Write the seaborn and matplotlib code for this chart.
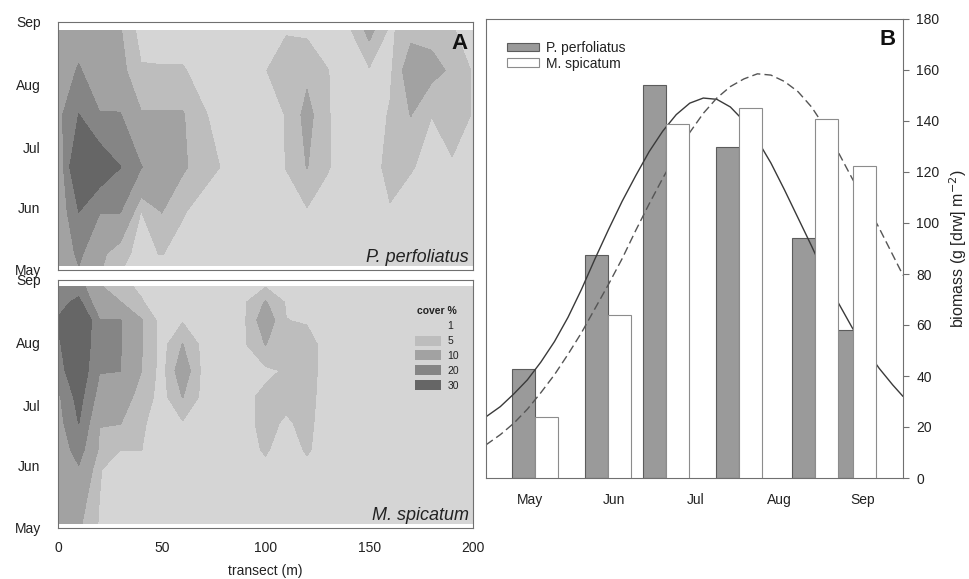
import numpy as np
import matplotlib
matplotlib.use('Agg')
import matplotlib.pyplot as plt
from matplotlib.patches import Patch
from matplotlib.ticker import FixedLocator
import seaborn as sns

# --- data -------------------------------------------------------------
# transect positions (m) and sampling days (day of year)
TRANSECT = [0, 10, 20, 30, 40, 50, 60, 70, 80, 90, 100,
            110, 120, 130, 140, 150, 160, 170, 180, 190, 200]
PP_DAYS = [123, 129, 150, 172, 198, 220, 240]
MS_DAYS = [123, 150, 160, 173, 186, 199, 212, 224, 233, 241]

# cover % along transect, one row per sampling day (May -> Sep)
PP_COVER = [
    [11, 20, 11, 5.5, 3, 3, 2, 1, 1, 1, 1, 1, 1, 1, 1, 1, 1, 1, 1, 1, 1],
    [12, 22, 12, 6, 4, 5.2, 3, 2, 1, 1, 1, 1, 1, 1, 1, 1, 1, 1, 1, 1, 1],
    [12, 30.2, 20.5, 20.5, 4.9, 10.2, 5.5, 3, 2, 1, 1, 2, 4.5, 2, 1, 1, 4.5, 2, 1, 1, 1],
    [11, 45, 38, 30.2, 20.5, 12, 11, 7, 4.5, 1, 1, 5.2, 10.2, 5.5, 1, 2, 7, 5.5, 3, 4, 1],
    [17, 30.2, 20.5, 20.5, 10.5, 10.5, 10.5, 5.5, 3, 1, 3, 5.2, 12, 5.5, 1, 2, 5.5, 10.2, 5.1, 9, 4.5],
    [14, 21, 14, 12, 5.5, 5.5, 5.5, 3, 1, 1, 4.8, 8, 8.5, 5.2, 1.5, 4.5, 4, 14, 12, 9, 4.5],
    [12, 15, 12, 10.5, 3, 2, 2, 1, 1, 1, 1, 4.5, 4, 1, 4, 12, 4, 8, 8, 5.5, 2],
]
MS_COVER = [
    [12, 11, 4.5, 1, 1, 1, 1, 1, 1, 1, 1, 1, 1, 1, 1, 1, 1, 1, 1, 1, 1],
    [13, 19, 5.5, 1, 1, 1, 1, 1, 1, 1, 4, 1, 4, 1, 1, 1, 1, 1, 1, 1, 1],
    [14, 24, 9, 5.2, 5.2, 1, 1, 1, 1, 3.5, 5.5, 3, 5.5, 3, 1, 1, 1, 1, 1, 1, 1],
    [16, 30.2, 10.2, 10.2, 6, 2, 4.5, 1, 1, 4, 6, 4.5, 6, 3, 1, 1, 1, 1, 1, 1, 1],
    [18, 34, 16, 13, 8, 3, 10.2, 3.5, 1, 4, 6, 6, 6.5, 3, 1, 1, 1, 1, 1, 1, 1],
    [26, 38, 20.5, 20.2, 10.2, 3, 14, 3.5, 1, 1, 4, 5.5, 7, 3, 1, 1, 1, 1, 1, 1, 1],
    [28, 42, 20.5, 20.5, 10.5, 3, 10.2, 3.5, 1, 4.5, 10.2, 6, 7, 3, 1, 1, 1, 1, 1, 1, 1],
    [31, 45, 20.5, 20.5, 10.5, 3, 4.5, 1, 1, 4.5, 14, 5.1, 4.5, 1, 1, 1, 1, 1, 1, 1, 1],
    [26, 33, 12, 10.2, 5.5, 2, 1, 1, 1, 4.5, 10.5, 4.5, 1, 1, 1, 1, 1, 1, 1, 1, 1],
    [22, 24, 10.5, 6.5, 4, 1, 1, 1, 1, 1, 4.5, 1, 1, 1, 1, 1, 1, 1, 1, 1, 1],
]
COVER_LEVELS = [0, 5, 10, 20, 30, 100]
COVER_LABELS = ['1', '5', '10', '20', '30']

# panel B: biomass bars (g dw m-2) at sampling days
PP_BAR_DAYS = [118.6, 145.6, 166.8, 193.9, 222.0, 237.5]
PP_BIOMASS = [42.7, 87.5, 154.2, 129.9, 94.2, 58.0]
MS_BAR_DAYS = [127.1, 154.1, 175.3, 202.4, 230.5, 244.6]
MS_BIOMASS = [23.9, 63.8, 138.7, 145.2, 140.9, 122.2]

# fitted seasonal curves
FIT_DAYS = [104.7, 110, 115, 120, 125, 130, 135, 140, 145, 150, 155, 160,
            165, 170, 175, 180, 185, 190, 195, 200, 205, 210, 215, 220,
            225, 230, 235, 240, 245, 250, 255, 258.8]
PP_FIT = [24, 28, 33, 38.5, 45.5, 53.5, 63, 74, 86, 97.5, 108.5, 118.5,
          128, 136, 142.5, 147, 149, 148.5, 145.5, 140, 132.5, 123.5, 113, 102,
          91, 79.5, 68.5, 59, 50.5, 43, 36.5, 32]
MS_FIT = [13, 17, 21.5, 27, 33.5, 40.5, 48.5, 57, 66.5, 76, 86, 97,
          107.5, 117.5, 127, 135.5, 143, 149, 153.5, 156.5, 158.5, 158, 155.5, 151.5,
          145.5, 137.5, 127.5, 117.5, 108, 98, 87.5, 79.5]

MONTH_DAYS = [121, 152, 182, 213, 244]
MONTHS = ['May', 'Jun', 'Jul', 'Aug', 'Sep']

# --- style ------------------------------------------------------------
sns.set_theme(style='white')
plt.rcParams['font.family'] = ['Liberation Sans', 'DejaVu Sans']

COVER_COLORS = ['#d5d5d5', '#bdbdbd', '#a2a2a2', '#858585', '#666666']
GREY_BAR = '#9a9a9a'
SPINE = '#707070'
TXT = '#222222'
BAR_DAYS = 8.5

W, H = 970, 579


def px_rect(left, top, right, bottom):
    return [left / W, 1 - bottom / H, (right - left) / W, (bottom - top) / H]


def weekly_minor(starts):
    return [m + 7 * k for m in starts for k in range(1, 5)]


def style_axes(ax):
    for sp in ax.spines.values():
        sp.set_color(SPINE)
        sp.set_linewidth(0.8)
    ax.tick_params(which='both', direction='out', colors=SPINE, labelcolor=TXT)
    ax.tick_params(which='major', length=4.5, width=0.8, labelsize=10)
    ax.tick_params(which='minor', length=2.5, width=0.6)


fig = plt.figure(figsize=(W / 100, H / 100), dpi=100)

# --- panel A: cover contours -----------------------------------------
ax_pp = fig.add_axes(px_rect(58, 22, 473, 270))
ax_ms = fig.add_axes(px_rect(58, 280, 473, 528))

for ax, days, cover, name in [(ax_pp, PP_DAYS, PP_COVER, 'P. perfoliatus'),
                              (ax_ms, MS_DAYS, MS_COVER, 'M. spicatum')]:
    ax.contourf(TRANSECT, days, np.array(cover), levels=COVER_LEVELS,
                colors=COVER_COLORS)
    ax.set_xlim(0, 200)
    ax.set_ylim(121, 244)
    ax.set_xticks([0, 50, 100, 150, 200])
    ax.set_yticks(MONTH_DAYS)
    ax.set_yticklabels(MONTHS)
    ax.yaxis.set_minor_locator(FixedLocator(weekly_minor(MONTH_DAYS[:-1])))
    style_axes(ax)
    ax.tick_params(axis='y', which='major', pad=8)
    ax.text(0.99, 0.033, name, transform=ax.transAxes, ha='right',
            va='baseline', fontsize=13, fontstyle='italic', color=TXT)

ax_pp.tick_params(axis='x', labelbottom=False)
ax_ms.tick_params(axis='x', pad=5)
ax_ms.set_xlabel('transect (m)', fontsize=10, color=TXT, labelpad=6)
ax_pp.text(0.988, 0.955, 'A', transform=ax_pp.transAxes, ha='right', va='top',
           fontsize=16, fontweight='bold', color='#111111')

cover_handles = [Patch(facecolor=c, edgecolor='none') for c in COVER_COLORS]
leg = ax_ms.legend(cover_handles, COVER_LABELS, title='cover %',
                   loc='upper right', bbox_to_anchor=(464 / W, 1 - 301 / H),
                   bbox_transform=fig.transFigure, frameon=False,
                   fontsize=7.5, handlelength=2.5, handleheight=1.1,
                   labelspacing=0.42, handletextpad=0.6, borderpad=0,
                   title_fontproperties={'weight': 'bold', 'size': 7.5})
for t in leg.get_texts():
    t.set_color(TXT)
leg.get_title().set_color(TXT)

# --- panel B: biomass -------------------------------------------------
ax_b = fig.add_axes(px_rect(486, 19, 903, 478))

sns.barplot(x=PP_BAR_DAYS, y=PP_BIOMASS, native_scale=True, orient='x',
            width=BAR_DAYS / np.diff(PP_BAR_DAYS).min(), color=GREY_BAR,
            saturation=1, edgecolor='#5c5c5c', linewidth=0.8, errorbar=None,
            zorder=1, ax=ax_b)
sns.lineplot(x=FIT_DAYS, y=PP_FIT, color='#3a3a3a', lw=1.0, zorder=2, ax=ax_b)
sns.lineplot(x=FIT_DAYS, y=MS_FIT, color='#555555', lw=1.0,
             linestyle=(0, (6, 3)), zorder=2, ax=ax_b)
sns.barplot(x=MS_BAR_DAYS, y=MS_BIOMASS, native_scale=True, orient='x',
            width=BAR_DAYS / np.diff(MS_BAR_DAYS).min(), color='white',
            saturation=1, edgecolor='#8c8c8c', linewidth=0.8, errorbar=None,
            zorder=3, ax=ax_b)

ax_b.set_xlim(104.7, 258.8)
ax_b.set_ylim(0, 180)
ax_b.set_xticks(MONTH_DAYS)
ax_b.set_xticklabels(MONTHS)
ax_b.xaxis.set_minor_locator(FixedLocator(
    [114, 107] + weekly_minor(MONTH_DAYS[:-1]) + [251, 258]))
ax_b.set_yticks(range(0, 181, 20))
ax_b.yaxis.tick_right()
ax_b.yaxis.set_label_position('right')
style_axes(ax_b)
ax_b.tick_params(axis='x', pad=6)
ax_b.tick_params(axis='y', pad=5)
ax_b.set_xlabel('')
ax_b.set_ylabel('biomass (g [drw] m$^{-2}$)', fontsize=11.5, color=TXT,
                labelpad=6)
ax_b.text(0.982, 0.978, 'B', transform=ax_b.transAxes, ha='right', va='top',
          fontsize=16, fontweight='bold', color='#111111')

bar_handles = [Patch(facecolor=GREY_BAR, edgecolor='#5c5c5c', linewidth=0.8),
               Patch(facecolor='white', edgecolor='#8c8c8c', linewidth=0.8)]
leg_b = ax_b.legend(bar_handles, ['P. perfoliatus', 'M. spicatum'],
                    loc='upper left', bbox_to_anchor=(500 / W, 1 - 34 / H),
                    bbox_transform=fig.transFigure, frameon=False, fontsize=10,
                    handlelength=2.3, handleheight=0.6, labelspacing=0.12,
                    handletextpad=0.5, borderpad=0)
for t in leg_b.get_texts():
    t.set_color(TXT)

fig.savefig('out.png', dpi=100)
plt.close(fig)
